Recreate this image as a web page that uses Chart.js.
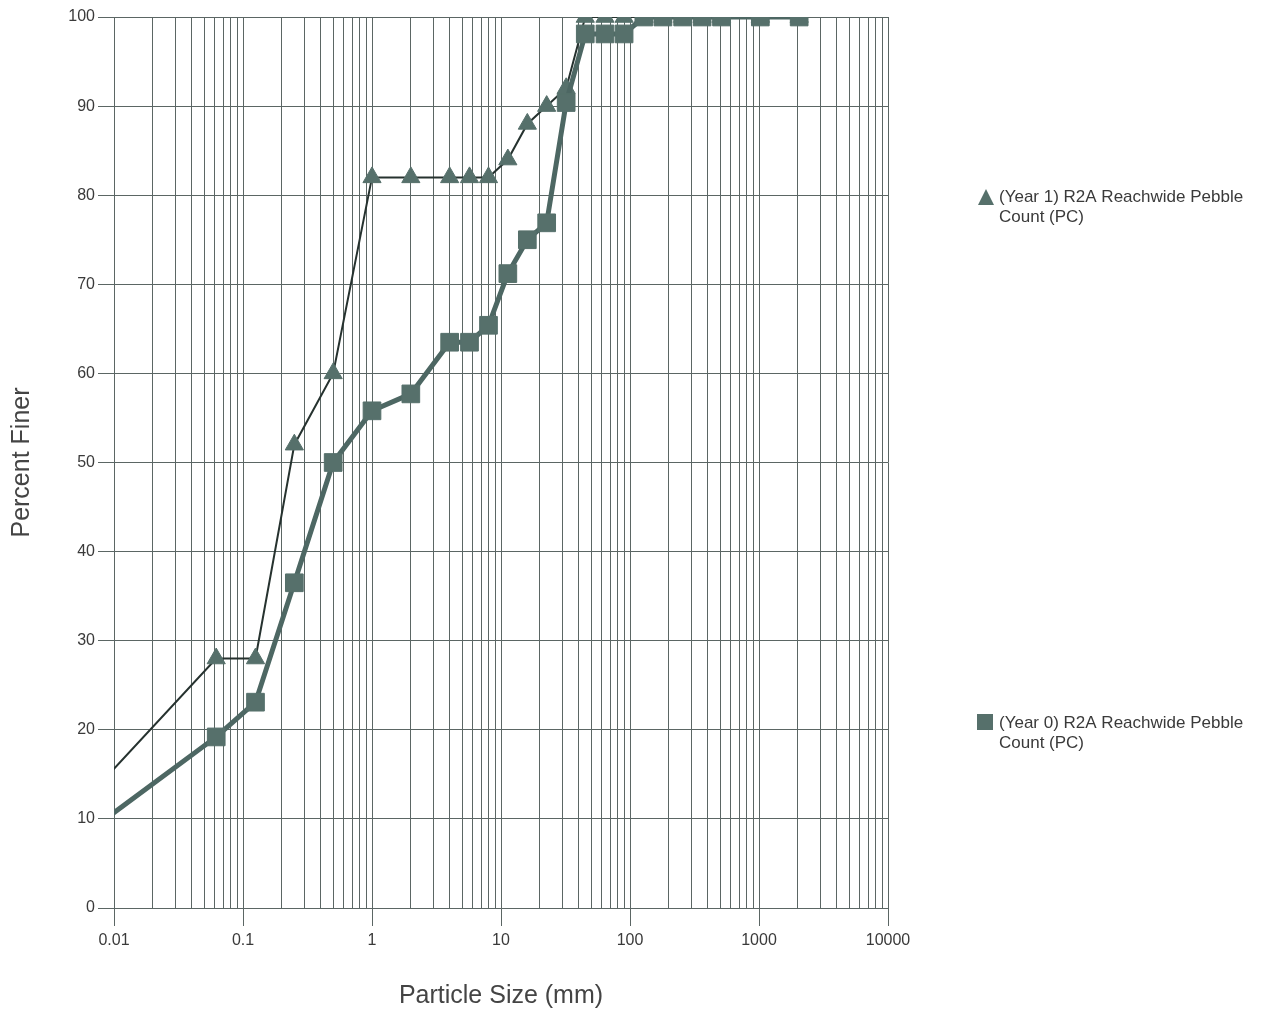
<!DOCTYPE html>
<html>
<head>
<meta charset="utf-8">
<script src="https://cdn.jsdelivr.net/npm/chart.js@4.4.1/dist/chart.umd.min.js"></script>
<style>
  html, body { margin: 0; padding: 0; background: #ffffff; }
  #wrap { width: 1265px; height: 1014px; position: relative; }
</style>
</head>
<body>
<div id="wrap"><canvas id="c" width="1265" height="1014"></canvas></div>
<script>
// ---- data ----
const particleSizes = [0.001, 0.062, 0.125, 0.25, 0.5, 1, 2, 4, 5.7, 8, 11.3, 16, 22.6, 32, 45, 64, 90, 128, 180, 256, 362, 512, 1024, 2048];
const year0Finer = [0, 19.2, 23.1, 36.5, 50, 55.8, 57.7, 63.5, 63.5, 65.4, 71.2, 75, 76.9, 90.4, 98.1, 98.1, 98.1, 100, 100, 100, 100, 100, 100, 100];
const year1Finer = [0, 28, 28, 52, 60, 82, 82, 82, 82, 82, 84, 88, 90, 92, 100, 100, 100, 100, 100, 100, 100, 100, 100, 100];
const year0Label = ['(Year 0) R2A Reachwide Pebble', 'Count (PC)'];
const year1Label = ['(Year 1) R2A Reachwide Pebble', 'Count (PC)'];
const xTickLabels = ['0.01', '0.1', '1', '10', '100', '1000', '10000'];
const xMin = 0.01, xMax = 10000;
const yMin = 0, yMax = 100, yStep = 10;
const xTitle = 'Particle Size (mm)';
const yTitle = 'Percent Finer';

// ---- styles ----
const gridColor = '#5b6664';
const markerColor = '#56706b';
const line0Color = '#4d6763';
const line1Color = '#26322f';
const textColor = '#3a3a3a';
const fontFamily = '"Liberation Sans", Arial, Helvetica, sans-serif';

function isPow10(v) {
  const l = Math.log10(v);
  return Math.abs(l - Math.round(l)) < 1e-9;
}

const pts = (ys) => particleSizes.map((x, i) => ({ x: x, y: ys[i] }));

const legendPlugin = {
  id: 'sideLegend',
  afterDraw(chart) {
    const ctx = chart.ctx;
    ctx.save();
    ctx.font = '17px ' + fontFamily;
    ctx.fillStyle = textColor;
    ctx.textBaseline = 'middle';
    ctx.textAlign = 'left';
    // year 1 item (triangle)
    const t = { x: 986, y: 198 };
    ctx.fillStyle = markerColor;
    ctx.beginPath();
    ctx.moveTo(t.x, t.y - 9);
    ctx.lineTo(t.x + 8, t.y + 7);
    ctx.lineTo(t.x - 8, t.y + 7);
    ctx.closePath();
    ctx.fill();
    ctx.fillStyle = textColor;
    ctx.fillText(year1Label[0], 999, 197);
    ctx.fillText(year1Label[1], 999, 217);
    // year 0 item (square)
    ctx.fillStyle = markerColor;
    ctx.fillRect(977, 714, 16, 16);
    ctx.fillStyle = textColor;
    ctx.fillText(year0Label[0], 999, 723);
    ctx.fillText(year0Label[1], 999, 743);
    ctx.restore();
  }
};

new Chart(document.getElementById('c'), {
  type: 'line',
  data: {
    datasets: [
      {
        label: year0Label.join(' '),
        data: pts(year0Finer),
        borderColor: line0Color,
        borderWidth: 5,
        pointStyle: 'rect',
        pointRadius: 12.5,
        pointBackgroundColor: markerColor,
        pointBorderColor: markerColor,
        pointBorderWidth: 1,
        tension: 0,
        clip: 0
      },
      {
        label: year1Label.join(' '),
        data: pts(year1Finer),
        borderColor: line1Color,
        borderWidth: 2,
        pointStyle: 'triangle',
        pointRadius: 10.5,
        pointBackgroundColor: markerColor,
        pointBorderColor: markerColor,
        pointBorderWidth: 1,
        tension: 0,
        clip: 0
      }
    ]
  },
  options: {
    responsive: false,
    animation: false,
    devicePixelRatio: 1,
    layout: { padding: { left: 0, right: 377, top: 17, bottom: 0 } },
    plugins: {
      legend: { display: false },
      tooltip: { enabled: false }
    },
    scales: {
      x: {
        type: 'logarithmic',
        min: xMin,
        max: xMax,
        afterBuildTicks(scale) {
          const ticks = [];
          for (let e = -2; e <= 4; e++) {
            for (let m = 1; m <= 9; m++) {
              const v = Number((m * Math.pow(10, e)).toPrecision(3));
              if (v > xMax) break;
              ticks.push({ value: v, major: m === 1 });
            }
          }
          scale.ticks = ticks;
        },
        afterFit(scale) { scale.height = 106; },
        ticks: {
          autoSkip: false,
          maxRotation: 0,
          minRotation: 0,
          padding: 5,
          color: textColor,
          font: { family: fontFamily, size: 16 },
          callback(value) {
            if (!isPow10(value)) return '';
            const idx = Math.round(Math.log10(value)) + 2;
            return xTickLabels[idx];
          }
        },
        grid: {
          color: gridColor,
          lineWidth: 1,
          drawTicks: true,
          tickLength: 18,
          tickColor(ctx) {
            return ctx.tick && isPow10(ctx.tick.value) ? gridColor : 'rgba(0,0,0,0)';
          }
        },
        border: { color: gridColor, width: 1 },
        title: {
          display: true,
          text: xTitle,
          color: '#444444',
          font: { family: fontFamily, size: 25 },
          padding: { top: 0, bottom: 3 }
        }
      },
      y: {
        min: yMin,
        max: yMax,
        afterFit(scale) { scale.width = 114; },
        ticks: {
          stepSize: yStep,
          padding: 3,
          color: textColor,
          font: { family: fontFamily, size: 16 }
        },
        grid: {
          color: gridColor,
          lineWidth: 1,
          tickLength: 16
        },
        border: { color: gridColor, width: 1 },
        title: {
          display: true,
          text: yTitle,
          color: '#444444',
          font: { family: fontFamily, size: 25 },
          padding: { top: 7, bottom: 0 }
        }
      }
    }
  },
  plugins: [legendPlugin]
});
</script>
</body>
</html>
